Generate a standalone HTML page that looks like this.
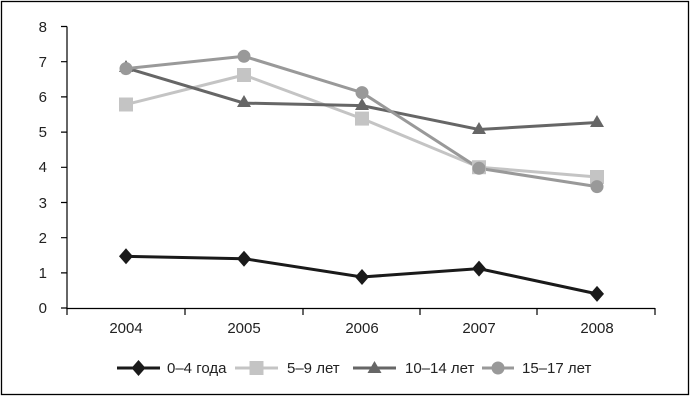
<!DOCTYPE html>
<html><head><style>body{margin:0;background:#fff}svg{display:block}</style></head><body>
<svg width="693" height="400" xmlns="http://www.w3.org/2000/svg" font-family="Liberation Sans, sans-serif">
<rect x="1.5" y="1.5" width="687" height="393" fill="#fff" stroke="#000" stroke-width="1.3"/>
<g stroke="#000" stroke-width="1.2" fill="none">
<path d="M67 26.5V308.5H655"/>
<path d="M61 26.5H67M61 61.7H67M61 96.9H67M61 132.1H67M61 167.3H67M61 202.5H67M61 237.7H67M61 272.9H67M61 308H67"/>
<path d="M67 308V315M185 308V315M303 308V315M420 308V315M537 308V315M655 308V315"/>
</g>
<g font-size="15" fill="#222" text-anchor="end">
<text x="47" y="32">8</text><text x="47" y="67">7</text><text x="47" y="102">6</text><text x="47" y="137">5</text><text x="47" y="172">4</text><text x="47" y="208">3</text><text x="47" y="243">2</text><text x="47" y="278">1</text><text x="47" y="313">0</text>
</g>
<g font-size="15" fill="#222" text-anchor="middle">
<text x="126" y="333">2004</text><text x="244" y="333">2005</text><text x="362" y="333">2006</text><text x="479" y="333">2007</text><text x="597" y="333">2008</text>
</g>
<g fill="none" stroke-width="3">
<polyline stroke="#c4c4c4" points="126,104.5 244,75 362,118.6 479,167.2 597,177"/>
<polyline stroke="#666" points="126,67.9 244,103.1 362,105.6 479,129.5 597,122.5"/>
<polyline stroke="#999" points="126,68.6 244,56.3 362,92.6 479,168.3 597,186.6"/>
<polyline stroke="#1a1a1a" points="126,256.3 244,258.7 362,277 479,268.6 597,293.9"/>
</g>
<g fill="#c4c4c4"><rect x="119" y="97.5" width="14" height="14"/><rect x="237" y="68" width="14" height="14"/><rect x="355" y="111.6" width="14" height="14"/><rect x="472" y="160.2" width="14" height="14"/><rect x="590" y="170" width="14" height="14"/></g>
<g fill="#666"><path d="M126 60l7 12h-14z"/><path d="M244 95l7 12h-14z"/><path d="M362 98l7 12h-14z"/><path d="M479 122l7 12h-14z"/><path d="M597 115l7 12h-14z"/></g>
<g fill="#999"><circle cx="126" cy="68.6" r="6.5"/><circle cx="244" cy="56.3" r="6.5"/><circle cx="362" cy="92.6" r="6.5"/><circle cx="479" cy="168.3" r="6.5"/><circle cx="597" cy="186.6" r="6.5"/></g>
<g fill="#1a1a1a"><path d="M126 248.3l7 8-7 8-7-8z"/><path d="M244 250.7l7 8-7 8-7-8z"/><path d="M362 269l7 8-7 8-7-8z"/><path d="M479 260.6l7 8-7 8-7-8z"/><path d="M597 285.9l7 8-7 8-7-8z"/></g>
<g stroke-width="3">
<line x1="117" y1="368" x2="160" y2="368" stroke="#1a1a1a"/><path d="M138.5 360l7 8-7 8-7-8z" fill="#1a1a1a"/>
<line x1="235" y1="368" x2="278" y2="368" stroke="#c4c4c4"/><rect x="249.5" y="361" width="14" height="14" fill="#c4c4c4"/>
<line x1="353" y1="368" x2="396" y2="368" stroke="#666"/><path d="M374.5 361l7 12h-14z" fill="#666"/>
<line x1="482" y1="368" x2="514" y2="368" stroke="#999"/><circle cx="498" cy="368" r="6.5" fill="#999"/>
</g>
<g font-size="15" fill="#222">
<text x="167" y="373">0–4 года</text><text x="287" y="373">5–9 лет</text><text x="405" y="373">10–14 лет</text><text x="522" y="373">15–17 лет</text>
</g>
</svg>
</body></html>
